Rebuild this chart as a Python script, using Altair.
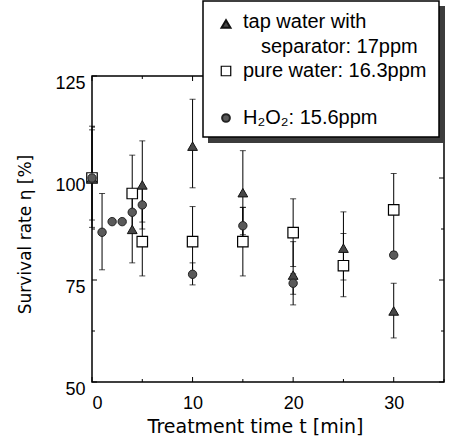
import altair as alt
import pandas as pd

# ---- data ----
time_tap = [0, 4, 5, 10, 15, 20, 25, 30]
rate_tap = [100, 87.4, 98.3, 107.8, 96.4, 76.2, 82.8, 67.4]
lo_tap = [87.9, 79.2, 87.5, 97.6, 86.1, 68.9, 75.0, 60.8]
hi_tap = [112.7, 95.6, 109.1, 119.3, 106.7, 84.4, 91.7, 74.2]

time_pure = [0, 4, 5, 10, 15, 20, 25, 30]
rate_pure = [100, 96.2, 84.4, 84.4, 84.4, 86.6, 78.5, 92.2]
lo_pure = [100, 86.8, 76.0, 75.8, 76.0, 78.3, 70.9, 82.0]
hi_pure = [100, 105.6, 92.8, 93.0, 92.8, 94.9, 86.4, 101.1]

time_h2o2 = [0, 1, 2, 3, 4, 5, 10, 15, 20, 30]
rate_h2o2 = [100, 86.7, 89.3, 89.3, 91.6, 93.4, 76.4, 88.3, 74.2, 81.1]
lo_h2o2 = [89.7, 77.5, 89.3, 89.3, 91.6, 89.2, 73.8, 83.8, 71.5, 81.1]
hi_h2o2 = [111.8, 96.2, 89.3, 89.3, 91.6, 97.6, 79.2, 92.8, 76.5, 81.1]

series_names = ["tap", "pure", "h2o2"]
legend_labels = ["tap water with", "separator: 17ppm", "pure water: 16.3ppm", "H\u2082O\u2082: 15.6ppm"]

x_major = [0, 10, 20, 30]
x_minor = [5, 15, 25, 35]
y_major = [50, 75, 100, 125]
y_minor = [62.5, 87.5, 112.5]

# ---- tables ----
def frame(name, t, r, lo, hi):
    return pd.DataFrame({"series": name, "t": t, "rate": r, "lo": lo, "hi": hi})

df = pd.concat([
    frame(series_names[0], time_tap, rate_tap, lo_tap, hi_tap),
    frame(series_names[1], time_pure, rate_pure, lo_pure, hi_pure),
    frame(series_names[2], time_h2o2, rate_h2o2, lo_h2o2, hi_h2o2),
], ignore_index=True)
err = df[df["hi"] > df["lo"]]

W, H = 352, 306
FONT = "Liberation Sans"
TFONT = "DejaVu Sans"

xscale = alt.Scale(domain=[0, 35], nice=False, zero=False)
yscale = alt.Scale(domain=[50, 125], nice=False, zero=False)
xaxis = alt.Axis(values=x_major, ticks=False, domain=False, grid=False,
                 labelPadding=12, labelFontSize=18, labelFont=FONT, labelColor="black",
                 title="Treatment time t [min]", titleFont=TFONT, titleFontSize=19,
                 titleFontWeight="normal", titleColor="black",
                 titleX=163, titleY=50, titleBaseline="alphabetic", titleAlign="center")
yaxis = alt.Axis(values=y_major, ticks=False, domain=False, grid=False,
                 labelPadding=7, labelOffset=7, labelFontSize=18, labelFont=FONT,
                 labelColor="black",
                 title="Survival rate \u03b7 [%]", titleFont=TFONT, titleFontSize=17,
                 titleFontWeight="normal", titleColor="black",
                 titleX=-58, titleY=158, titleAlign="center", titleAngle=270)

def X(field="t"):
    return alt.X(f"{field}:Q", scale=xscale, axis=xaxis)

def Y(field):
    return alt.Y(f"{field}:Q", scale=yscale, axis=yaxis)

one = pd.DataFrame({"k": [0]})

frame_rect = alt.Chart(one).mark_rect(fillOpacity=0, stroke="black", strokeWidth=1.5).encode(
    x=alt.value(0), x2=alt.value(W), y=alt.value(0), y2=alt.value(H))

# inward ticks
ymaj = pd.DataFrame({"v": y_major})
ymin = pd.DataFrame({"v": y_minor})
xmaj = pd.DataFrame({"v": x_major})
xmin = pd.DataFrame({"v": x_minor})
tick_style = dict(color="black", strokeWidth=1)
ticks = [
    alt.Chart(ymaj).mark_rule(**tick_style).encode(y=Y("v"), x=alt.value(0), x2=alt.value(5)),
    alt.Chart(ymin).mark_rule(**tick_style).encode(y=Y("v"), x=alt.value(0), x2=alt.value(3)),
    alt.Chart(ymaj).mark_rule(**tick_style).encode(y=Y("v"), x=alt.value(W), x2=alt.value(W - 5)),
    alt.Chart(ymin).mark_rule(**tick_style).encode(y=Y("v"), x=alt.value(W), x2=alt.value(W - 3)),
    alt.Chart(xmaj).mark_rule(**tick_style).encode(x=X("v"), y=alt.value(H), y2=alt.value(H - 5)),
    alt.Chart(xmin).mark_rule(**tick_style).encode(x=X("v"), y=alt.value(H), y2=alt.value(H - 3)),
    alt.Chart(xmaj).mark_rule(**tick_style).encode(x=X("v"), y=alt.value(0), y2=alt.value(5)),
    alt.Chart(xmin).mark_rule(**tick_style).encode(x=X("v"), y=alt.value(0), y2=alt.value(3)),
]

bars = alt.Chart(err).mark_rule(color="black", strokeWidth=1).encode(
    x=X(), y=Y("lo"), y2="hi")
cap_lo = alt.Chart(err).mark_tick(orient="horizontal", size=6, thickness=1, color="black").encode(
    x=X(), y=Y("lo"))
cap_hi = alt.Chart(err).mark_tick(orient="horizontal", size=6, thickness=1, color="black").encode(
    x=X(), y=Y("hi"))

squares = alt.Chart(df[df.series == "pure"]).mark_point(
    shape="square", filled=True, fill="white", stroke="black", strokeWidth=1.2, size=110,
    opacity=1).encode(x=X(), y=Y("rate"))
triangles = alt.Chart(df[df.series == "tap"]).mark_point(
    shape="triangle-up", filled=True, fill="#474747", stroke="#111111", strokeWidth=1, size=95,
    opacity=1).encode(x=X(), y=Y("rate"))
circles = alt.Chart(df[df.series == "h2o2"]).mark_point(
    shape="circle", filled=True, fill="#5a5a5a", stroke="#222222", strokeWidth=1, size=70,
    opacity=1).encode(x=X(), y=Y("rate"))

# legend box
shadow = alt.Chart(one).mark_rect(fill="#3c3c3c").encode(
    x=alt.value(116), x2=alt.value(353), y=alt.value(-70), y2=alt.value(67))
box = alt.Chart(one).mark_rect(fill="white", stroke="black", strokeWidth=1.5).encode(
    x=alt.value(111), x2=alt.value(347), y=alt.value(-75), y2=alt.value(61))
leg_tri = alt.Chart(one).mark_point(shape="triangle-up", filled=True, fill="#474747",
                                    stroke="#111111", size=80, opacity=1).encode(
    x=alt.value(134), y=alt.value(-52))
leg_sq = alt.Chart(one).mark_point(shape="square", filled=True, fill="white",
                                   stroke="black", strokeWidth=1.2, size=90, opacity=1).encode(
    x=alt.value(134), y=alt.value(-5))
leg_ci = alt.Chart(one).mark_point(shape="circle", filled=True, fill="#5a5a5a",
                                   stroke="#222222", size=60, opacity=1).encode(
    x=alt.value(134), y=alt.value(42))
text_style = dict(align="left", baseline="middle", font=FONT, fontSize=20, color="black")
leg_texts = [
    alt.Chart(one).mark_text(**text_style).encode(x=alt.value(151), y=alt.value(-54), text=alt.value(legend_labels[0])),
    alt.Chart(one).mark_text(**text_style).encode(x=alt.value(169), y=alt.value(-29), text=alt.value(legend_labels[1])),
    alt.Chart(one).mark_text(**text_style).encode(x=alt.value(151), y=alt.value(-5), text=alt.value(legend_labels[2])),
    alt.Chart(one).mark_text(**text_style).encode(x=alt.value(151), y=alt.value(42), text=alt.value(legend_labels[3])),
]

chart = alt.layer(
    bars, frame_rect, *ticks, cap_lo, cap_hi, squares, triangles, circles,
    shadow, box, leg_tri, leg_sq, leg_ci, *leg_texts
).properties(
    width=W, height=H,
    padding={"left": 92, "top": 76, "right": 10, "bottom": 61},
    autosize=alt.AutoSizeParams(type="none"),
    background="white",
).configure_view(stroke=None)

chart.save("out.html", embed_options={"renderer": "svg", "actions": False})
